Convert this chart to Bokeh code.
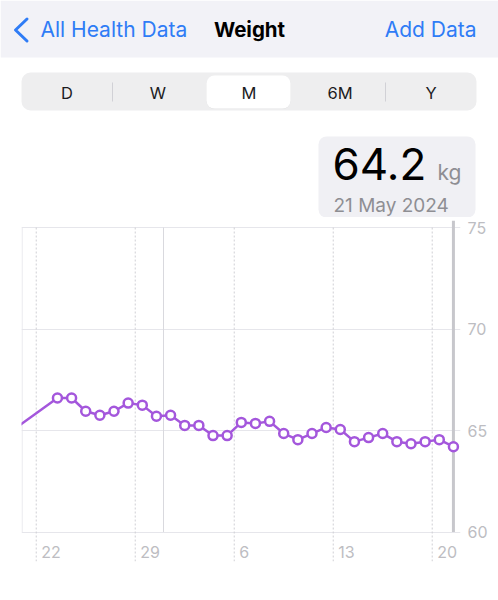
import pandas as pd
from bokeh.plotting import figure
from bokeh.models import ColumnDataSource, Range1d, FixedTicker, BoxAnnotation
from bokeh.layouts import column
from bokeh.core.properties import value
from bokeh.embed import file_html
from bokeh.resources import INLINE

# ---------------- data ----------------
dates = ["2024-04-20", "2024-04-23", "2024-04-24", "2024-04-25", "2024-04-26",
         "2024-04-27", "2024-04-28", "2024-04-29", "2024-04-30", "2024-05-01",
         "2024-05-02", "2024-05-03", "2024-05-04", "2024-05-05", "2024-05-06",
         "2024-05-07", "2024-05-08", "2024-05-09", "2024-05-10", "2024-05-11",
         "2024-05-12", "2024-05-13", "2024-05-14", "2024-05-15", "2024-05-16",
         "2024-05-17", "2024-05-18", "2024-05-19", "2024-05-20", "2024-05-21"]
weights = [65.1, 66.6, 66.6, 65.95, 65.75,
           65.95, 66.35, 66.25, 65.7, 65.75,
           65.25, 65.25, 64.75, 64.75, 65.4,
           65.35, 65.45, 64.85, 64.55, 64.85,
           65.15, 65.05, 64.45, 64.65, 64.85,
           64.45, 64.35, 64.45, 64.55, 64.2]
x_tick_dates = ["2024-04-22", "2024-04-29", "2024-05-06", "2024-05-13", "2024-05-20"]
x_tick_labels = ["22", "29", "6", "13", "20"]
y_ticks = [60, 65, 70, 75]
month_start = "2024-05-01"
view_start = "2024-04-21"
view_end = "2024-05-22"
periods = ["D", "W", "M", "6M", "Y"]
selected_period = "M"
unit = "kg"
nav_back = "All Health Data"
nav_title = "Weight"
nav_action = "Add Data"

# ---------------- styles ----------------
FONT = "Inter"
BLUE = "#2f7cf6"
PURPLE = "#a457dc"
GRAY_TXT = "#8e8e93"
AXIS_TXT = "#bdbdc2"
GRID = "#e6e6eb"

W = 498
HH = 217          # header height (page pixels)
CH = 600 - HH     # chart figure height

# ---------------- header (page-pixel coordinates) ----------------
hdr = figure(width=W, height=HH, x_range=Range1d(0, W), y_range=Range1d(0, HH),
             output_backend="svg", toolbar_location=None, min_border=0,
             x_axis_location=None, y_axis_location=None)
hdr.frame_align = False
hdr.grid.visible = False
hdr.outline_line_color = None
hdr.background_fill_color = "white"
hdr.border_fill_color = "white"


def ty(py):
    return HH - py


hdr.quad(left=0, right=W, top=ty(0), bottom=ty(57), fill_color="#f2f2f7", line_color=None)
hdr.line(x=[26.5, 15, 26.5], y=[ty(18.5), ty(29.5), ty(40.5)], line_color=BLUE, line_width=3,
         line_cap="round", line_join="round")
hdr.text(x=[40], y=[ty(29)], text=[nav_back], text_font=value(FONT), text_font_size="21px",
         text_color=BLUE, text_align="left", text_baseline="middle")
hdr.text(x=[249], y=[ty(29)], text=[nav_title], text_font=value(FONT), text_font_size="20.5px",
         text_font_style="bold", text_color="#000000", text_align="center", text_baseline="middle")
hdr.text(x=[476], y=[ty(29)], text=[nav_action], text_font=value(FONT), text_font_size="21px",
         text_color=BLUE, text_align="right", text_baseline="middle")

# segmented control
c_left, c_right, c_top, c_bot = 21, 476, 72, 110
hdr.add_layout(BoxAnnotation(left=c_left, right=c_right, top=ty(c_top), bottom=ty(c_bot),
                             fill_color="#eeeeef", fill_alpha=1, line_color=None,
                             border_radius=9, level="underlay"))
seg_w = (c_right - c_left) / len(periods)
sel_i = periods.index(selected_period)
sl = c_left + sel_i * seg_w + 3
sr = c_left + (sel_i + 1) * seg_w - 4
hdr.add_layout(BoxAnnotation(left=sl, right=sr, top=ty(c_top + 3.5), bottom=ty(c_bot - 1.5),
                             fill_color="#e2e2e4", fill_alpha=1, line_color=None,
                             border_radius=8, level="underlay"))
hdr.add_layout(BoxAnnotation(left=sl, right=sr, top=ty(c_top + 3), bottom=ty(c_bot - 2),
                             fill_color="#ffffff", fill_alpha=1, line_color=None,
                             border_radius=8, level="underlay"))
seg_x = [c_left + (i + 0.5) * seg_w for i in range(len(periods))]
hdr.text(x=seg_x, y=[ty(92)] * len(periods), text=periods, text_font=value(FONT),
         text_font_size="16.5px", text_color="#1c1c1e", text_align="center", text_baseline="middle")
for i in range(1, len(periods)):
    if i != sel_i and i != sel_i + 1:
        bx = c_left + i * seg_w
        hdr.line(x=[bx, bx], y=[ty(82), ty(101)], line_color="#d1d1d6", line_width=1)

# info box
hdr.add_layout(BoxAnnotation(left=318, right=475, top=ty(136), bottom=ty(217),
                             fill_color="#f0f0f4", fill_alpha=1, line_color=None,
                             border_radius=8, level="underlay"))
last_val = f"{weights[-1]:.1f}"
last_date = pd.Timestamp(dates[-1]).strftime("%-d %b %Y")
hdr.text(x=[332], y=[ty(163)], text=[last_val], text_font=value(FONT), text_font_size="44px",
         text_color="#000000", text_align="left", text_baseline="middle")
hdr.text(x=[437], y=[ty(172)], text=[unit], text_font=value(FONT), text_font_size="21px",
         text_color=GRAY_TXT, text_align="left", text_baseline="middle")
hdr.text(x=[333], y=[ty(205)], text=[last_date], text_font=value(FONT), text_font_size="19px",
         text_color=GRAY_TXT, text_align="left", text_baseline="middle")

# ---------------- chart ----------------
px_per_kg = 20.3
y_lo = 60 - 29.5 / px_per_kg
y_hi = 75 + 7 / px_per_kg

ts = pd.to_datetime(dates) + pd.Timedelta(hours=12)
src = ColumnDataSource(dict(x=ts, y=weights))
tick_src = ColumnDataSource(dict(x=pd.to_datetime(x_tick_dates), text=x_tick_labels))

ch = figure(width=W, height=CH, x_axis_type="datetime",
            x_range=Range1d(pd.Timestamp(view_start) - pd.Timedelta(hours=1), pd.Timestamp(view_end)),
            y_range=Range1d(y_lo, y_hi),
            x_axis_location=None, y_axis_location="right",
            output_backend="svg", toolbar_location=None,
            min_border_left=21, min_border_right=38, min_border_top=220 - HH, min_border_bottom=39)
ch.frame_align = False
ch.outline_line_color = None
ch.background_fill_color = "white"
ch.border_fill_color = "white"
ch.xgrid.visible = False
ch.yaxis.ticker = FixedTicker(ticks=y_ticks)
ch.ygrid.grid_line_color = GRID
ch.ygrid.grid_line_width = 1
ch.yaxis.axis_line_color = None
ch.yaxis.major_tick_line_color = None
ch.yaxis.minor_tick_line_color = None
ch.yaxis.major_tick_out = 0
ch.yaxis.major_label_standoff = 7
ch.yaxis.major_label_text_font = FONT
ch.yaxis.major_label_text_font_size = "16px"
ch.yaxis.major_label_text_color = AXIS_TXT

# dashed week lines
ch.segment(x0="x", y0=y_lo, x1="x", y1=y_ticks[-1], source=tick_src,
           line_color="#cfcfd4", line_width=1, line_dash="2 2")
# left border & month boundary
edge_src = ColumnDataSource(dict(x=pd.to_datetime([view_start])))
ch.segment(x0="x", y0=y_ticks[0], x1="x", y1=y_ticks[-1], source=edge_src, line_color=GRID, line_width=1)
month_src = ColumnDataSource(dict(x=pd.to_datetime([month_start])))
ch.segment(x0="x", y0=y_ticks[0], x1="x", y1=y_ticks[-1], source=month_src, line_color="#d9d9de", line_width=1)
# x labels
ch.text(x="x", y=y_ticks[0], text="text", source=tick_src, x_offset=5, y_offset=20,
        text_font=value(FONT), text_font_size="16px", text_color=AXIS_TXT,
        text_align="left", text_baseline="middle")
# selection line at latest reading
sel_src = ColumnDataSource(dict(x=ts[-1:]))
ch.segment(x0="x", y0=y_ticks[0], x1="x", y1=y_hi, source=sel_src, line_color="#c7c7cc", line_width=3)
# weight line
ch.line("x", "y", source=src, line_color=PURPLE, line_width=2.5)
ch.scatter("x", "y", source=ColumnDataSource(dict(x=ts[1:], y=weights[1:])), size=9,
           fill_color="white", line_color=PURPLE, line_width=2.5)

layout = column(hdr, ch, spacing=0)
open("out.html", "w").write(file_html(layout, INLINE))
